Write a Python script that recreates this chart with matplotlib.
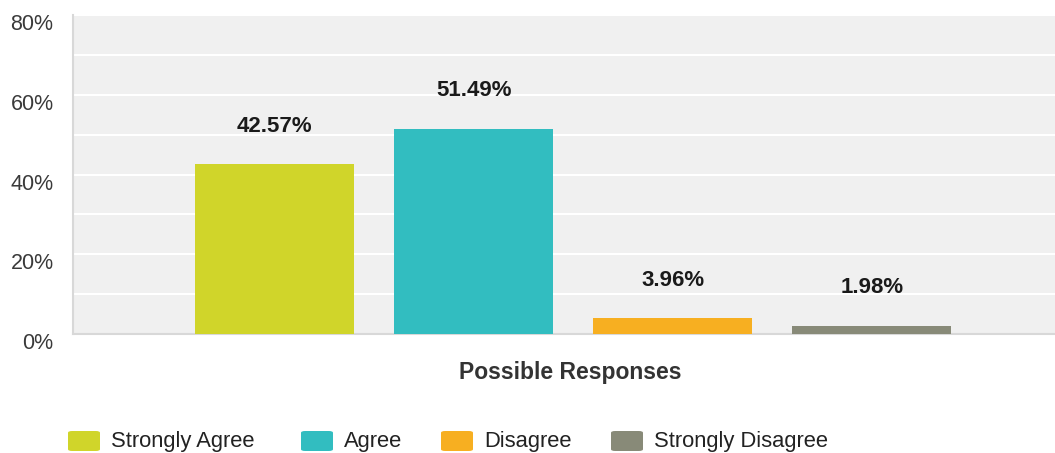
import matplotlib
matplotlib.use("Agg")
import matplotlib.pyplot as plt
import matplotlib.transforms as mtransforms
from matplotlib.patches import FancyBboxPatch

categories = ["Strongly Agree", "Agree", "Disagree", "Strongly Disagree"]
values = [42.57, 51.49, 3.96, 1.98]
colors = ["#D0D52A", "#32BDC0", "#F7AF21", "#888A78"]
yticks = [0, 20, 40, 60, 80]
ytick_labels = ["0%", "20%", "40%", "60%", "80%"]
xlabel = "Possible Responses"

plt.rcParams['font.family'] = ['Liberation Sans', 'DejaVu Sans']

W, H = 1055, 453
fig = plt.figure(figsize=(W / 100, H / 100), dpi=100)
left, right, top, bottom = 73, 1055, 15, 334
ax = fig.add_axes([left / W, 1 - bottom / H, (right - left) / W, (bottom - top) / H])
ax.set_facecolor("#F0F0F0")

xs = list(range(len(categories)))
ax.bar(xs, values, width=0.8, color=colors, zorder=3)
for x, v in zip(xs, values):
    ax.annotate(f"{v:.2f}%", (x, v), xytext=(0, 27.5), textcoords="offset points",
                ha="center", va="center", fontsize=16, fontweight="bold", color="#1a1a1a")

ax.set_xlim(-1.013, 3.92)
ax.set_ylim(0, 80)
ax.set_yticks(yticks)
ax.set_yticklabels(ytick_labels)
ax.set_yticks(range(0, 81, 10), minor=True)
ax.grid(True, axis="y", which="both", color="white", linewidth=1.5, zorder=0)
ax.set_xticks([])
ax.tick_params(axis="y", which="both", length=0, labelsize=15.5, labelcolor="#3a3a3a", pad=14)
offset = mtransforms.ScaledTranslation(0, -7 / 100, fig.dpi_scale_trans)
for lab in ax.get_yticklabels():
    lab.set_transform(lab.get_transform() + offset)

for s in ["top", "right"]:
    ax.spines[s].set_visible(False)
ax.spines["left"].set_color("#D8D8D8")
ax.spines["left"].set_linewidth(1.5)
ax.spines["bottom"].set_color("#D8D8D8")
ax.spines["bottom"].set_linewidth(1.5)

fig.text(570 / W, 1 - 373 / H, xlabel, ha="center", va="center",
         fontsize=16.5, fontweight="bold", color="#333333")

legend_x = [67, 300, 440, 610]
for lx, name, c in zip(legend_x, categories, colors):
    patch = FancyBboxPatch(((lx + 1) / W, 1 - 451 / H), 32 / W, 20 / H,
                           boxstyle="round,pad=0,rounding_size=0.004",
                           transform=fig.transFigure, facecolor=c, edgecolor="none")
    fig.patches.append(patch)
    fig.text((lx + 44) / W, 1 - 441 / H, name, ha="left", va="center",
             fontsize=15.8, color="#222222")

fig.savefig("out.png", dpi=100)
